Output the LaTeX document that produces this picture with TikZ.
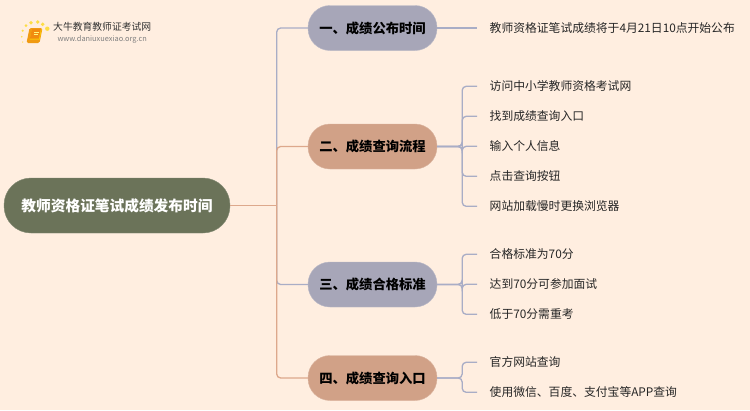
\documentclass[tikz,border=0pt]{standalone}
\usepackage{fontspec}
\setmainfont{Noto Sans CJK SC}
\usetikzlibrary{calc}
\definecolor{colorbg}{HTML}{FFEEE0}
\definecolor{colorroot}{HTML}{6B7359}
\definecolor{colorblue}{HTML}{A7A6B8}
\definecolor{colortan}{HTML}{D1A187}
\definecolor{linkblue}{HTML}{A9ADC6}
\definecolor{linktan}{HTML}{DDA88C}
\definecolor{colorbook}{HTML}{F09A12}
\tikzset{
    root node/.style={draw=colorroot!85!white, fill=colorroot, rounded corners=27pt, minimum width=226pt,
        minimum height=55pt, text=white, font=\fontsize{14.7}{16}\selectfont\bfseries, inner sep=0pt},
    topic node/.style={draw=#1!80!white, fill=#1, rounded corners=22pt, minimum width=129pt,
        minimum height=45pt, text=black, font=\fontsize{13.3}{16}\selectfont\bfseries, inner sep=0pt},
    leaf node/.style={anchor=west, inner xsep=12.5pt, inner ysep=0pt, text=black!85,
        font=\fontsize{11.8}{14}\selectfont},
    link/.style={draw=#1, line width=1.3pt, rounded corners=4pt},
}
\begin{document}
\begin{tikzpicture}[x=1pt, y=-1pt]
    \path [fill=colorbg] (0,0) rectangle (750,410);
    \useasboundingbox (0,0) rectangle (750,410);

    % logo
    \foreach \x/\y/\r in {22.7/42/0.7,21.7/36.7/0.9,22.7/30.7/1.2,26/25.7/1.5,31/22.7/1.8,37.7/22/1.9,42.7/24.3/1.9,47.3/28.7/2.2} {
        \fill [yellow!75!orange, opacity=0.7] (\x,\y) circle (\r);
    }
    \begin{scope}[shift={(34.5,35.5)}, xslant=0.2]
        \fill [colorbook, rounded corners=1.5pt] (-6.5,-7.5) rectangle (6.5,7.5);
        \fill [yellow!60!orange] (-4,-6.5) rectangle (6,4);
        \fill [colorbook!90!red] (-4,-6.5) rectangle (5,3);
        \draw [yellow!50!white, line width=0.6pt] (-1,-3.5) -- (3.5,-3.5) (-1,-1) -- (3.5,-1);
    \end{scope}
    \node (logotitle) [anchor=west, inner sep=0pt, text=black!80, font=\fontsize{9.8}{12}\selectfont] at (53,27) {大牛教育教师证考试网};
    \node (logourl) [anchor=west, inner sep=0pt, text=black!50, font=\fontsize{7.4}{8}\selectfont] at (57.3,39) {www.daniuxuexiao.org.cn};

    \node (root) [root node] at (117,205.5) {教师资格证笔试成绩发布时间};

    % topics
    \foreach \i/\y/\c/\t in {1/28/colorblue/一、成绩公布时间,2/146.5/colortan/二、成绩查询流程,
        3/284.5/colorblue/三、成绩合格标准,4/378/colortan/四、成绩查询入口} {
        \node (t\i) [topic node=\c] at (372.5,\y) {\t};
    }

    \coordinate (spine) at ($(root.east)+(46.5,0)$);
    \foreach \i in {1,3} {
        \draw [link=linkblue] (spine) |- (t\i.west);
    }
    \foreach \i in {2,4} {
        \draw [link=linktan] (spine) |- (t\i.west);
    }
    \draw [link=linktan] (root.east) -- (spine);

    % leaves
    \foreach \n/\i/\y/\t in {a/1/28/教师资格证笔试成绩将于4月21日10点开始公布,
        b/2/86.3/访问中小学教师资格考试网,c/2/116.3/找到成绩查询入口,d/2/146.3/输入个人信息,
        e/2/176.3/点击查询按钮,f/2/206.3/网站加载慢时更换浏览器,
        g/3/254.3/合格标准为70分,h/3/284.3/达到70分可参加面试,i/3/314.3/低于70分需重考,
        j/4/362.3/官方网站查询,k/4/392.3/使用微信、百度、支付宝等APP查询} {
        \node (leaf\n) [leaf node] at (477,\y) {\t};
        \coordinate (fork\n) at ($(t\i.east)+(25,0)$);
        \ifnum\i=1
            \draw [link=linkblue] (t\i.east) -- (leaf\n.west);
        \else
            \draw [link=linkblue] (t\i.east) -- (fork\n) |- (leaf\n.west);
        \fi
    }
\end{tikzpicture}
\end{document}
